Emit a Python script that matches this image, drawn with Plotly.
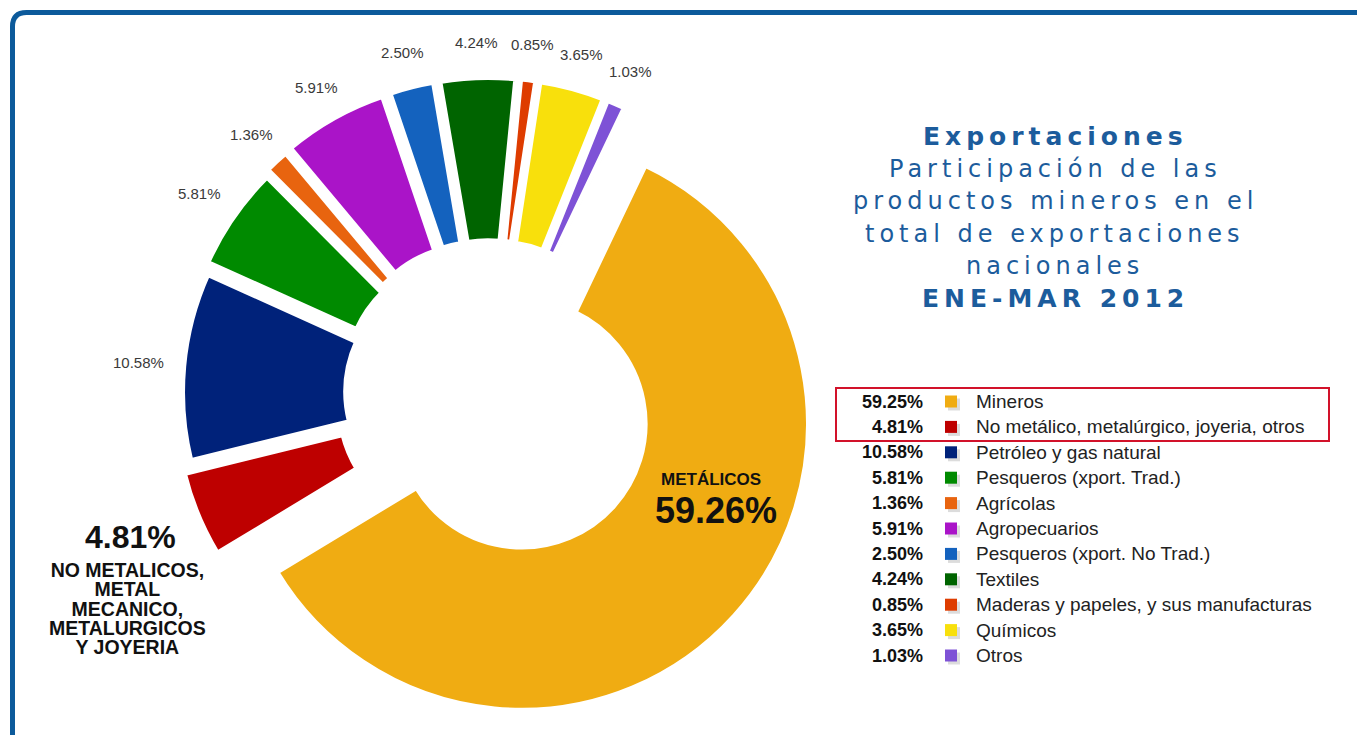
import numpy as np
import plotly.graph_objects as go

# ---------------- data ----------------
categories = [
    "Mineros",
    "No metálico, metalúrgico, joyeria, otros",
    "Petróleo y gas natural",
    "Pesqueros (xport. Trad.)",
    "Agrícolas",
    "Agropecuarios",
    "Pesqueros (xport. No Trad.)",
    "Textiles",
    "Maderas y papeles, y sus manufacturas",
    "Químicos",
    "Otros",
]
slice_values = [59.26, 4.81, 10.58, 5.81, 1.36, 5.91, 2.50, 4.24, 0.85, 3.65, 1.03]
legend_values = [59.25, 4.81, 10.58, 5.81, 1.36, 5.91, 2.50, 4.24, 0.85, 3.65, 1.03]
slice_colors = [
    "#F0AC12", "#BE0000", "#00227A", "#008A00", "#E8640F", "#AA14C8",
    "#1462BE", "#006400", "#DE3C00", "#F8E00C", "#7E52D6",
]
red_label_lines = ["NO METALICOS,", "METAL", "MECANICO,", "METALURGICOS", "Y JOYERIA"]
big_label_name = "METÁLICOS"
title_lines = [
    ("Exportaciones", True),
    ("Participación de las", False),
    ("productos mineros en el", False),
    ("total de exportaciones", False),
    ("nacionales", False),
    ("ENE-MAR 2012", True),
]

# ---------------- geometry / styles ----------------
W, H = 1357, 735
CX, CY = 489.0, 394.0          # pie centre in px
R = 286.5                       # pie radius in px
ROT = 25.5
PULLS = [0.155, 0.10, 0.07, 0.085, 0.10, 0.105, 0.105, 0.105, 0.105, 0.105, 0.105]
HALF = R * (1 + max(PULLS))     # half of the pie box


def fx(x):
    return x / W


def fy(y):
    return 1 - y / H


def pie_trace(dx, dy, colors, name):
    return go.Pie(
        labels=categories,
        values=slice_values,
        sort=False,
        direction="clockwise",
        rotation=ROT,
        hole=0.43,
        pull=PULLS,
        marker=dict(colors=colors, line=dict(color="white", width=5)),
        textinfo="none",
        hoverinfo="label+percent",
        showlegend=False,
        name=name,
        domain=dict(
            x=[fx(CX - HALF + dx), fx(CX + HALF + dx)],
            y=[fy(CY + HALF + dy), fy(CY - HALF + dy)],
        ),
    )


fig = go.Figure()
fig.add_trace(pie_trace(3, 3, ["#D4D4D4"] * len(slice_values), "shadow"))
fig.add_trace(pie_trace(0, 0, slice_colors, "Exportaciones"))

annotations = []
SANS = "Liberation Sans, Arial, sans-serif"

# small outside percentage labels (slices 2..10), positioned from data angles
vals = np.array(slice_values)
cum = np.cumsum(vals)
mid = cum - vals / 2
theta = np.radians(ROT + 360 * mid / vals.sum())
RL = 352
for i in range(2, len(vals)):
    x = CX + RL * np.sin(theta[i])
    y = CY - RL * np.cos(theta[i])
    annotations.append(dict(
        x=fx(x), y=fy(y), xref="paper", yref="paper", showarrow=False,
        text=f"{slice_values[i]:.2f}%", xanchor="center", yanchor="middle",
        font=dict(family=SANS, size=15, color="#3a3a3a"),
    ))

# big label on the main slice
annotations.append(dict(
    x=fx(711), y=fy(479), xref="paper", yref="paper", showarrow=False,
    text=f"<b>{big_label_name}</b>", xanchor="center", yanchor="middle",
    font=dict(family=SANS, size=17, color="#111111"),
))
annotations.append(dict(
    x=fx(716), y=fy(510), xref="paper", yref="paper", showarrow=False,
    text=f"<b>{slice_values[0]:.2f}%</b>", xanchor="center", yanchor="middle",
    font=dict(family=SANS, size=36, color="#111111"),
))

# label of the red slice
annotations.append(dict(
    x=fx(130), y=fy(537), xref="paper", yref="paper", showarrow=False,
    text=f"<b>{slice_values[1]:.2f}%</b>", xanchor="center", yanchor="middle",
    font=dict(family=SANS, size=32, color="#111111"),
))
annotations.append(dict(
    x=fx(127), y=fy(608.5), xref="paper", yref="paper", showarrow=False,
    text="<b>" + "<br>".join(
        f'<span style="font-size:19.5px">{line}</span>' for line in red_label_lines
    ) + "</b>",
    xanchor="center", yanchor="middle", align="center",
    font=dict(family=SANS, size=14.9, color="#111111"),
))

# title block
TITLE_BLUE = "#1C5C9C"
for k, (line, bold) in enumerate(title_lines):
    txt = f'<span style="letter-spacing:5px">{line}</span>'
    if bold:
        txt = f"<b>{txt}</b>"
    annotations.append(dict(
        x=fx(1055), y=fy(137 + 32.2 * k), xref="paper", yref="paper", showarrow=False,
        text=txt, xanchor="center", yanchor="middle",
        font=dict(family="DejaVu Sans, Verdana, sans-serif", size=25 if bold else 24,
                  color=TITLE_BLUE),
    ))

# legend table
shapes = []
ROW0, DROW = 401.5, 25.4
for i, (cat, v, c) in enumerate(zip(categories, legend_values, slice_colors)):
    yc = ROW0 + DROW * i
    annotations.append(dict(
        x=fx(925), y=fy(yc), xref="paper", yref="paper", showarrow=False,
        text=f"<b>{v:.2f}%</b>", xanchor="right", yanchor="middle",
        font=dict(family=SANS, size=18, color="#111111"),
    ))
    annotations.append(dict(
        x=fx(974), y=fy(yc), xref="paper", yref="paper", showarrow=False,
        text=cat, xanchor="left", yanchor="middle",
        font=dict(family=SANS, size=19, color="#222222"),
    ))
    shapes.append(dict(
        type="rect", xref="paper", yref="paper",
        x0=fx(948), x1=fx(960), y0=fy(yc - 3), y1=fy(yc + 9),
        fillcolor="#DCDCDC", line=dict(width=0), layer="above",
    ))
    shapes.append(dict(
        type="rect", xref="paper", yref="paper",
        x0=fx(945), x1=fx(957), y0=fy(yc - 6), y1=fy(yc + 6),
        fillcolor=c, line=dict(width=0), layer="above",
    ))

# red highlight box around the first two legend rows
shapes.append(dict(
    type="rect", xref="paper", yref="paper",
    x0=fx(836), x1=fx(1329), y0=fy(441), y1=fy(388),
    fillcolor="rgba(0,0,0,0)", line=dict(color="#D2122A", width=2), layer="above",
))

# outer blue frame with rounded top-left corner
FL, FT, RC = 12.5, 12.5, 14
frame_path = (
    f"M {fx(FL)},{fy(760)} L {fx(FL)},{fy(FT + RC)} "
    f"Q {fx(FL)},{fy(FT)} {fx(FL + RC)},{fy(FT)} L {fx(1400)},{fy(FT)}"
)
shapes.append(dict(
    type="path", xref="paper", yref="paper", path=frame_path,
    line=dict(color="#0C5A9B", width=5), layer="above",
))

fig.update_layout(
    width=W, height=H,
    margin=dict(l=0, r=0, t=0, b=0),
    paper_bgcolor="white", plot_bgcolor="white",
    annotations=annotations, shapes=shapes,
    showlegend=False,
)

fig.write_html(
    "out.html",
    config={"displayModeBar": False},
    post_script="document.body.style.margin='0';document.body.style.overflow='hidden';",
)
